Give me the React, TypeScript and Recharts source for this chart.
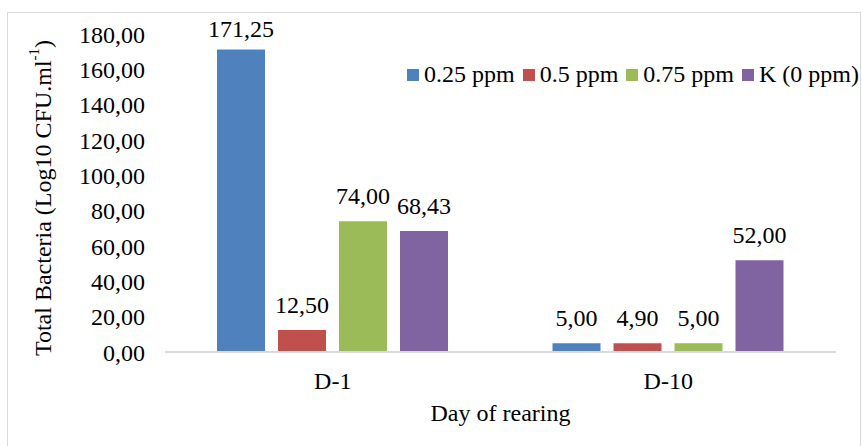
import { BarChart, Bar, XAxis, YAxis, Legend, LabelList, Label } from 'recharts';

const FONT = '"Liberation Serif", "Times New Roman", serif';

const categories = ['D-1', 'D-10'];
const ppm025 = [171.25, 5.0];
const ppm05 = [12.5, 4.9];
const ppm075 = [74.0, 5.0];
const control = [68.43, 52.0];
const yTicks = [0, 20, 40, 60, 80, 100, 120, 140, 160, 180];

const SERIES = [
  { key: 'p025', name: '0.25 ppm', color: '#4f81bd' }, // blue
  { key: 'p05', name: '0.5 ppm', color: '#c0504d' }, // red
  { key: 'p075', name: '0.75 ppm', color: '#9bbb59' }, // green
  { key: 'k0', name: 'K (0 ppm)', color: '#8064a2' }, // purple
];

const data = categories.map((name, i) => ({
  name,
  p025: ppm025[i],
  p05: ppm05[i],
  p075: ppm075[i],
  k0: control[i],
}));

const fmt = (v: number) => Number(v).toFixed(2).replace('.', ',');

function ValueLabel(props: any) {
  const { x, y, width, value } = props;
  // keep the tallest label inside the plot, like the original does
  const by = Math.max(Number(y) - 17, 37);
  return (
    <text x={Number(x) + Number(width) / 2} y={by} textAnchor="middle" fontSize={24} fontFamily={FONT} fill="#000">
      {fmt(value)}
    </text>
  );
}

function YTitle(props: any) {
  const { viewBox } = props;
  const cx = viewBox.x + 43;
  const cy = viewBox.y + viewBox.height / 2 + 5;
  return (
    <text
      x={cx}
      y={cy}
      transform={`rotate(-90 ${cx} ${cy})`}
      textAnchor="middle"
      dominantBaseline="central"
      fontSize={24}
      fontFamily={FONT}
      fill="#000"
    >
      Total Bacteria (Log10 CFU.ml
      <tspan dy={-9} fontSize={15}>-1</tspan>
      <tspan dy={9}>)</tspan>
    </text>
  );
}

function LegendContent() {
  return (
    <div style={{ display: 'flex', alignItems: 'center', fontFamily: FONT, fontSize: 24, color: '#000', whiteSpace: 'nowrap' }}>
      {SERIES.map((s) => (
        <span key={s.key} style={{ display: 'flex', alignItems: 'center', marginRight: 8 }}>
          <span style={{ width: 12, height: 12, background: s.color, marginRight: 5, display: 'inline-block' }} />
          {s.name}
        </span>
      ))}
    </div>
  );
}

export default function App() {
  return (
    <div style={{ position: 'fixed', left: 0, top: 0, width: 862, height: 446, overflow: 'hidden', background: '#fff' }}>
      <div style={{ position: 'absolute', left: 0, top: 0 }}>
        <BarChart
          width={862}
          height={446}
          data={data}
          margin={{ top: 34, right: 26, bottom: 24, left: 0 }}
          barSize={48}
          barGap={13}
        >
          <XAxis
            dataKey="name"
            axisLine={{ stroke: '#d9d9d9', strokeWidth: 2 }}
            tickLine={false}
            tickSize={0}
            tickMargin={20}
            height={70}
            tick={{ fill: '#000', fontSize: 24, fontFamily: FONT }}
          >
            <Label value="Day of rearing" position="insideBottom" offset={1} fill="#000" fontSize={24} fontFamily={FONT} />
          </XAxis>
          <YAxis
            domain={[0, 180]}
            ticks={yTicks}
            interval={0}
            axisLine={false}
            tickLine={false}
            tickSize={0}
            tickMargin={20}
            width={165}
            tickFormatter={fmt}
            tick={{ fill: '#000', fontSize: 24, fontFamily: FONT }}
          >
            <Label content={YTitle} />
          </YAxis>
          <Legend
            verticalAlign="middle"
            align="center"
            layout="horizontal"
            content={LegendContent}
            wrapperStyle={{ left: 407, top: 61, width: 'auto' }}
          />
          {SERIES.map((s) => (
            <Bar key={s.key} dataKey={s.key} name={s.name} fill={s.color} isAnimationActive={false}>
              <LabelList dataKey={s.key} content={ValueLabel} />
            </Bar>
          ))}
        </BarChart>
      </div>
      <div
        style={{
          position: 'absolute',
          left: 7,
          top: 12,
          width: 852,
          height: 450,
          border: '1px solid #d9d9d9',
          pointerEvents: 'none',
        }}
      />
    </div>
  );
}
